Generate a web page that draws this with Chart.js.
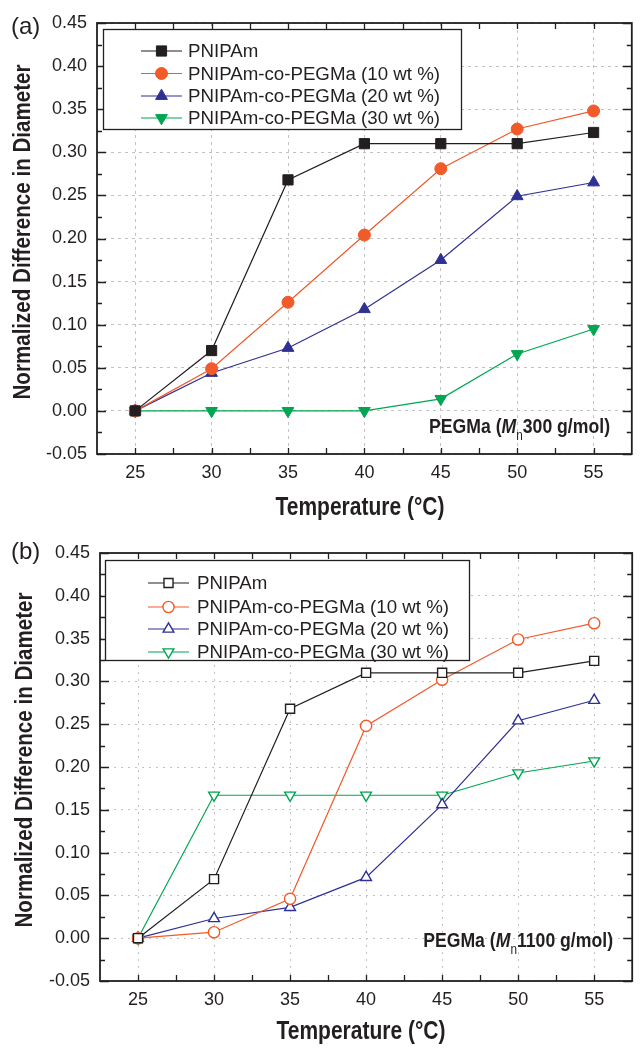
<!DOCTYPE html>
<html>
<head>
<meta charset="utf-8">
<script src="https://cdn.jsdelivr.net/npm/chart.js@4/dist/chart.umd.min.js"></script>
<style>
  html, body { margin: 0; padding: 0; background: #fff; }
  .panel { position: relative; width: 640px; height: 524px; }
</style>
</head>
<body>
<div class="panel"><canvas id="chartA"></canvas></div>
<div class="panel"><canvas id="chartB"></canvas></div>
<script>
// x values (temperature, °C)
const temperatures = [25, 30, 35, 40, 45, 50, 55];
const seriesNames = ['PNIPAm', 'PNIPAm-co-PEGMa (10 wt %)', 'PNIPAm-co-PEGMa (20 wt %)', 'PNIPAm-co-PEGMa (30 wt %)'];

// (a) PEGMa Mn 300 g/mol
const pnipamA = [0, 0.070, 0.268, 0.310, 0.310, 0.310, 0.323];
const peg10A  = [0, 0.049, 0.126, 0.204, 0.281, 0.327, 0.348];
const peg20A  = [0, 0.044, 0.073, 0.118, 0.175, 0.249, 0.265];
const peg30A  = [0, 0.000, 0.000, 0.000, 0.014, 0.066, 0.095];

// (b) PEGMa Mn 1100 g/mol
const pnipamB = [0, 0.069, 0.268, 0.310, 0.310, 0.310, 0.324];
const peg10B  = [0, 0.007, 0.046, 0.248, 0.302, 0.349, 0.368];
const peg20B  = [0, 0.023, 0.036, 0.071, 0.156, 0.254, 0.278];
const peg30B  = [0, 0.167, 0.167, 0.167, 0.167, 0.193, 0.207];

// tick labels
const xTicks = [25, 30, 35, 40, 45, 50, 55];
const yTicks = [-0.05, 0, 0.05, 0.10, 0.15, 0.20, 0.25, 0.30, 0.35, 0.40, 0.45];

const seriesColors = ['#231f20', '#f15a29', '#2e3192', '#00a651'];
const pointStyles = ['rect', 'circle', 'triangle', 'triangle'];
const pointRotations = [0, 0, 0, 180];

const sans = '"Liberation Sans", Arial, sans-serif';
const ink = '#231f20';
const squeeze = 0.84; // the original titles use a condensed bold face

function makeDatasets(series, filled) {
  const radii = filled ? [7.2, 6, 6.8, 6.8] : [6.4, 5.6, 6.2, 6.2];
  return series.map((vals, i) => ({
    label: seriesNames[i],
    data: temperatures.map((t, j) => ({ x: t, y: vals[j] })),
    borderColor: seriesColors[i],
    borderWidth: 1.2,
    pointBorderColor: seriesColors[i],
    pointBackgroundColor: filled ? seriesColors[i] : '#ffffff',
    pointStyle: pointStyles[i],
    pointRotation: pointRotations[i],
    pointRadius: radii[i],
    pointBorderWidth: filled ? 1 : 1.4,
    tension: 0,
    _radius: radii[i]
  }));
}

function condensedText(ctx, text, cx, cy, font, rotate) {
  ctx.save();
  ctx.translate(cx, cy);
  if (rotate) ctx.rotate(-Math.PI / 2);
  ctx.scale(squeeze, 1);
  ctx.font = font;
  ctx.textAlign = 'center';
  ctx.textBaseline = 'middle';
  ctx.fillText(text, 0, 0);
  ctx.restore();
}

// frame, inward ticks, axis titles, legend box, panel letter and PEGMa note
const decorPlugin = {
  id: 'decor',
  afterDraw(chart) {
    const o = chart.options.plugins.decor;
    const { ctx, chartArea: a, scales: { x, y } } = chart;
    ctx.save();

    // inward ticks
    ctx.strokeStyle = ink;
    ctx.lineWidth = 1.3;
    ctx.beginPath();
    for (let v = 25; v <= 55; v += 2.5) {
      const px = Math.round(x.getPixelForValue(v)) + 0.5;
      ctx.moveTo(px, a.bottom); ctx.lineTo(px, a.bottom - 6);
      ctx.moveTo(px, a.top); ctx.lineTo(px, a.top + 6);
    }
    for (let k = -2; k <= 18; k++) {
      const v = k * 0.025;
      const py = Math.round(y.getPixelForValue(v)) + 0.5;
      const len = k % 2 === 0 ? 9 : 5;
      ctx.moveTo(a.left, py); ctx.lineTo(a.left + len, py);
      ctx.moveTo(a.right, py); ctx.lineTo(a.right - len, py);
    }
    ctx.stroke();

    // frame
    ctx.lineWidth = 1.8;
    ctx.strokeRect(a.left, a.top, a.right - a.left, a.bottom - a.top);

    // axis titles
    ctx.fillStyle = ink;
    condensedText(ctx, 'Temperature (°C)', o.xTitleX, o.xTitleY, 'bold 25px ' + sans, false);
    condensedText(ctx, 'Normalized Difference in Diameter', o.yTitleX, o.yTitleY, 'bold 24.5px ' + sans, true);

    // legend
    const L = o.legend;
    ctx.fillStyle = '#ffffff';
    ctx.fillRect(L.x, L.y, L.w, L.h);
    ctx.lineWidth = 1.3;
    ctx.strokeStyle = ink;
    ctx.strokeRect(L.x + 0.5, L.y + 0.5, L.w, L.h);
    ctx.font = '18.7px ' + sans;
    ctx.textBaseline = 'middle';
    ctx.textAlign = 'left';
    chart.data.datasets.forEach((ds, i) => {
      const cy = L.rows[i];
      ctx.strokeStyle = seriesColors[i];
      ctx.lineWidth = 1.2;
      ctx.beginPath();
      ctx.moveTo(L.lineX0, cy); ctx.lineTo(L.lineX1, cy);
      ctx.stroke();
      ctx.fillStyle = ds.pointBackgroundColor;
      ctx.lineWidth = ds.pointBorderWidth;
      Chart.helpers.drawPoint(ctx, {
        pointStyle: ds.pointStyle, radius: ds._radius,
        rotation: ds.pointRotation, borderWidth: ds.pointBorderWidth
      }, (L.lineX0 + L.lineX1) / 2, cy);
      ctx.fillStyle = ink;
      ctx.fillText(ds.label, L.textX, cy + 1);
    });

    // panel letter
    ctx.fillStyle = ink;
    ctx.font = '24px ' + sans;
    ctx.textAlign = 'left';
    ctx.fillText(o.letter, 11, o.letterY);

    // PEGMa (Mn ... g/mol), condensed bold
    const parts = [
      { t: 'PEGMa (', f: 'bold 21px ' + sans, dy: 0 },
      { t: 'M', f: 'italic bold 21px ' + sans, dy: 0 },
      { t: 'n', f: '14px ' + sans, dy: 9 },
      { t: o.mn + ' g/mol)', f: 'bold 21px ' + sans, dy: 0 }
    ];
    let total = 0;
    parts.forEach(p => { ctx.font = p.f; p.w = ctx.measureText(p.t).width; total += p.w; });
    ctx.translate(o.noteRight, o.noteY);
    ctx.scale(squeeze, 1);
    let cx = -total;
    parts.forEach(p => {
      ctx.font = p.f;
      ctx.fillText(p.t, cx, p.dy);
      cx += p.w;
    });
    ctx.restore();
  }
};

function createChart(id, series, filled, layout) {
  const ctx = document.getElementById(id).getContext('2d');
  return new Chart(ctx, {
    type: 'line',
    data: { datasets: makeDatasets(series, filled) },
    plugins: [decorPlugin],
    options: {
      responsive: true,
      maintainAspectRatio: false,
      animation: false,
      layout: { padding: { top: layout.top, right: layout.right, left: 0, bottom: 0 } },
      plugins: {
        legend: { display: false },
        tooltip: { enabled: false },
        decor: layout.decor
      },
      scales: {
        x: {
          type: 'linear',
          min: 22.5,
          max: 57.5,
          afterBuildTicks: s => { s.ticks = xTicks.map(v => ({ value: v })); },
          afterFit: s => { s.height = layout.xHeight; },
          grid: { color: '#c2c2c2', lineWidth: 1, drawTicks: false },
          border: { display: false, dash: layout.dash },
          ticks: { font: { family: sans, size: 18 }, color: ink, padding: 8, maxRotation: 0 }
        },
        y: {
          type: 'linear',
          min: -0.05,
          max: 0.45,
          afterBuildTicks: s => { s.ticks = yTicks.map(v => ({ value: v })); },
          afterFit: s => { s.width = layout.yWidth; },
          grid: { color: '#c2c2c2', lineWidth: 1, drawTicks: false },
          border: { display: false, dash: layout.dash },
          ticks: {
            font: { family: sans, size: 18 }, color: ink, padding: 10,
            callback: v => Number(v).toFixed(2)
          }
        }
      }
    }
  });
}

createChart('chartA', [pnipamA, peg10A, peg20A, peg30A], true, {
  top: 23, right: 3, yWidth: 97, xHeight: 70, dash: [3, 4],
  decor: {
    letter: '(a)', letterY: 27, mn: '300', noteRight: 610, noteY: 427,
    xTitleX: 360, xTitleY: 508, yTitleX: 23, yTitleY: 232,
    legend: { x: 103, y: 29, w: 358, h: 100, lineX0: 141, lineX1: 182, textX: 188, rows: [51, 73.5, 96, 118] }
  }
});

createChart('chartB', [pnipamB, peg10B, peg20B, peg30B], false, {
  top: 29, right: 1, yWidth: 100, xHeight: 67, dash: [2, 5],
  decor: {
    letter: '(b)', letterY: 28, mn: '1100', noteRight: 613, noteY: 417,
    xTitleX: 361, xTitleY: 508, yTitleX: 25, yTitleY: 236,
    legend: { x: 105, y: 36, w: 364, h: 100, lineX0: 148, lineX1: 189, textX: 197, rows: [59, 83, 105, 128] }
  }
});
</script>
</body>
</html>
